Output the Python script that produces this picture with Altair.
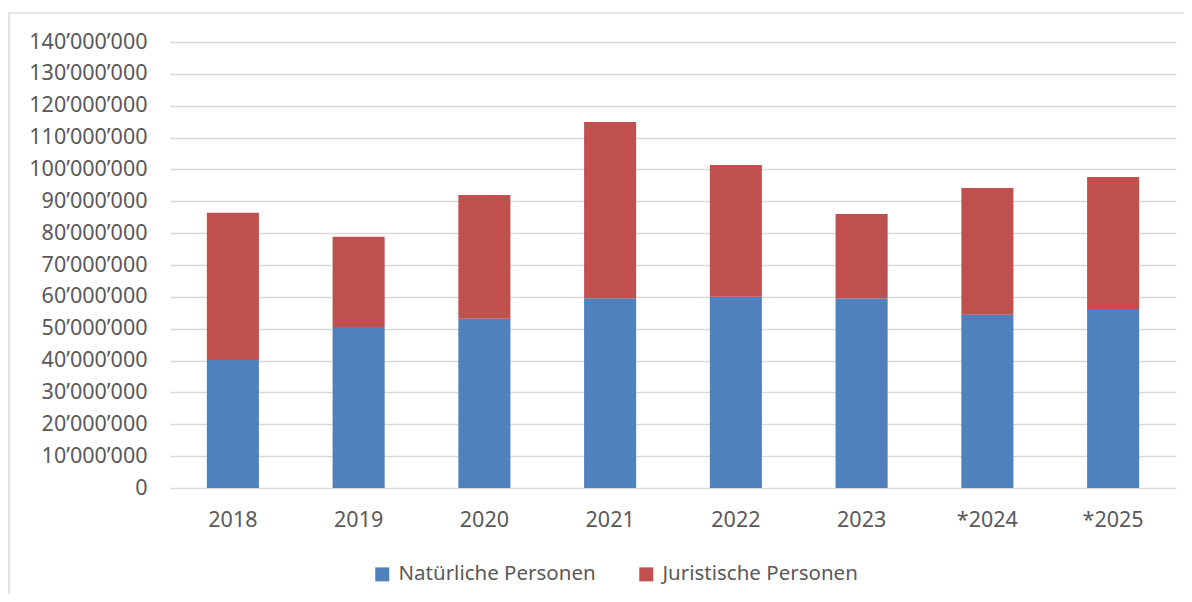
import altair as alt
import pandas as pd

years = ["2018", "2019", "2020", "2021", "2022", "2023", "*2024", "*2025"]
natuerliche = [40.2e6, 50.5e6, 53.1e6, 59.6e6, 60.0e6, 59.5e6, 54.4e6, 56.2e6]
juristische = [46.2e6, 28.4e6, 38.9e6, 55.3e6, 41.4e6, 26.5e6, 39.8e6, 41.4e6]
series = ["Natürliche Personen", "Juristische Personen"]
colors = ["#4F81BD", "#C0504D"]

rows = []
for y, n, j in zip(years, natuerliche, juristische):
    rows.append({"Jahr": y, "Serie": series[0], "Wert": n, "ord": 0})
    rows.append({"Jahr": y, "Serie": series[1], "Wert": j, "ord": 1})
df = pd.DataFrame(rows)

FONT = "Noto Sans"
GREY = "#595959"
FS = 21.5

bars = alt.Chart(df).mark_bar().encode(
    x=alt.X("Jahr:N", sort=years, title=None,
            scale=alt.Scale(paddingInner=0.586, paddingOuter=0.293),
            axis=alt.Axis(labelAngle=0, ticks=False, domain=False, grid=False,
                          labelPadding=21, labelFontSize=FS, labelColor=GREY,
                          labelFont=FONT)),
    y=alt.Y("Wert:Q", stack="zero", title=None,
            scale=alt.Scale(domain=[0, 140e6], nice=False),
            axis=alt.Axis(values=[i * 10e6 for i in range(15)], ticks=False,
                          domain=False, gridColor="#d9d9d9", gridWidth=1.5,
                          labelPadding=23, labelFontSize=FS, labelColor=GREY,
                          labelFont=FONT,
                          labelExpr="replace(replace(format(datum.value, ','), ',', '’'), ',', '’')")),
    color=alt.Color("Serie:N", sort=series,
                    scale=alt.Scale(domain=series, range=colors),
                    legend=alt.Legend(title=None, orient="none", direction="horizontal",
                                      legendX=202, legendY=522, symbolType="square",
                                      symbolSize=196, symbolStrokeWidth=0,
                                      labelFontSize=20.5, labelColor=GREY, labelFont=FONT,
                                      labelLimit=0, labelOffset=6, columnPadding=40)),
    order=alt.Order("ord:Q"),
)

frame = alt.Chart(pd.DataFrame({"a": [0]})).mark_rect(
    fill=None, stroke="#d9d9d9", strokeWidth=1.5, clip=False
).encode(
    x=alt.value(-161), x2=alt.value(1040), y=alt.value(-29), y2=alt.value(600)
)

chart = alt.layer(frame, bars).properties(
    width=1006, height=446,
    autosize=alt.AutoSizeParams(type="none"),
    padding={"left": 162, "top": 34, "right": 8, "bottom": 106},
).configure_view(stroke=None)

chart.save("out.html", embed_options={"renderer": "svg", "actions": False})
